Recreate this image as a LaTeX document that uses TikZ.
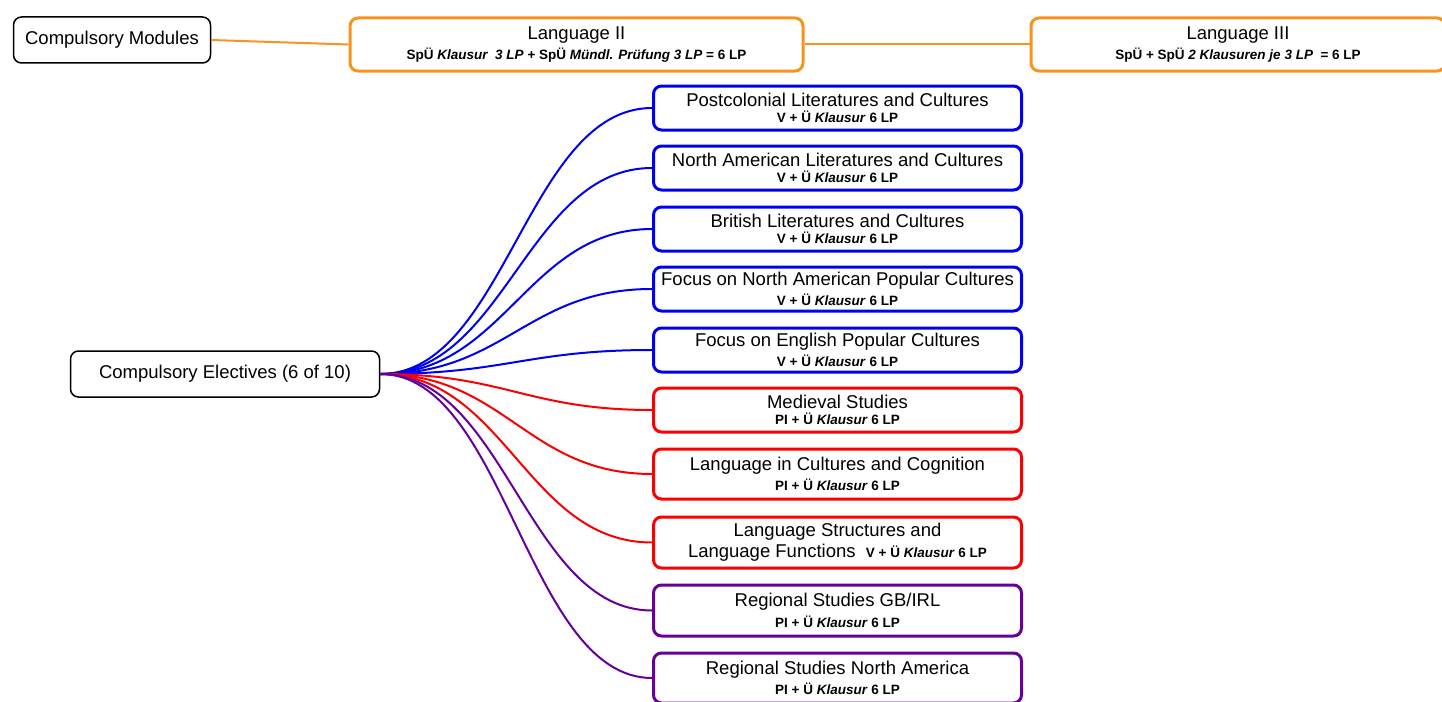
\documentclass[tikz,border=0pt]{standalone}
\usepackage{fontspec}
\setmainfont{Liberation Sans}
\definecolor{modorange}{RGB}{247,148,30}
\definecolor{modblue}{RGB}{0,0,240}
\definecolor{modred}{RGB}{250,0,0}
\definecolor{modpurple}{RGB}{102,0,153}
\newcommand\modtitle[2]{{\fontsize{18.5}{19}\selectfont #1}\\[4pt]{\fontsize{13.5}{14}\selectfont\bfseries #2}}
\newcommand\modexam[1]{#1 + Ü \textit{Klausur} 6 LP}

\begin{document}
\begin{tikzpicture}[x=1pt, y=-1pt,
	modbox/.style={draw, rounded corners=8pt, line width=3pt, fill=white, align=center,
		inner sep=0pt, minimum width=368pt, minimum height=44pt},
	rootbox/.style={draw=black, rounded corners=8pt, line width=1.5pt, fill=white, align=center,
		inner sep=0pt, minimum height=46pt, font=\fontsize{18.5}{19}\selectfont},
	branch/.style={line width=2pt}]
	\useasboundingbox (0,0) rectangle (1442,701);

	% Pflichtmodule ------------------------------------------------------------
	\node[rootbox, minimum width=197pt] (cm) at (112,40) {Compulsory Modules};
	\node[modbox, draw=modorange, minimum width=453pt, minimum height=53pt] (lang2) at (576.5,44.5)
		{\modtitle{Language II}{SpÜ \textit{Klausur\ \ 3 LP} + SpÜ \textit{Mündl. Prüfung 3 LP} = 6 LP}};
	\node[modbox, draw=modorange, minimum width=414pt, minimum height=53pt] (lang3) at (1238,44.5)
		{\modtitle{Language III}{SpÜ + SpÜ \textit{2 Klausuren je 3 LP}\ \ = 6 LP}};
	\draw[modorange, line width=2pt] (cm.east) -- (lang2.west); % Verbindung
	\draw[modorange, line width=2pt] (lang2.east) -- (lang3.west); % Verbindung

	% Wahlpflichtmodule --------------------------------------------------------
	\node[rootbox, minimum width=309pt] (ce) at (225,374) {Compulsory Electives (6 of 10)};

	\node[modbox, draw=modblue] (pc) at (837.5,108) {\modtitle{Postcolonial Literatures and Cultures}{\modexam{V}}};
	\node[modbox, draw=modblue] (na) at (837.5,168) {\modtitle{North American Literatures and Cultures}{\modexam{V}}};
	\node[modbox, draw=modblue] (br) at (837.5,229) {\modtitle{British Literatures and Cultures}{\modexam{V}}};
	\node[modbox, draw=modblue] (fna) at (837.5,289) {\modtitle{Focus on North American Popular Cultures}{\modexam{V}}};
	\node[modbox, draw=modblue] (fen) at (837.5,350) {\modtitle{Focus on English Popular Cultures}{\modexam{V}}};
	\node[modbox, draw=modred] (med) at (837.5,410) {\modtitle{Medieval Studies}{\modexam{PI}}};
	\node[modbox, draw=modred, minimum height=50pt] (lcc) at (837.5,474) {\modtitle{Language in Cultures and Cognition}{\modexam{PI}}};
	\node[modbox, draw=modred, minimum height=51pt, font=\fontsize{18.5}{21}\selectfont] (lsf) at (837.5,542.5)
		{Language Structures and\\Language Functions\ \ {\fontsize{13.5}{14}\selectfont\bfseries\modexam{V}}};
	\node[modbox, draw=modpurple, minimum height=51pt] (rgb) at (837.5,610.5) {\modtitle{Regional Studies GB/IRL}{\modexam{PI}}};
	\node[modbox, draw=modpurple, minimum height=50pt] (rna) at (837.5,678) {\modtitle{Regional Studies North America}{\modexam{PI}}};

	% Verbindungen (kubische Kurven) -------------------------------------------
	\foreach \m in {pc,na,br,fna,fen}
		\draw[branch, modblue] (ce.east) .. controls +(125,0) and +(-125,0) .. (\m.west);
	\foreach \m in {med,lcc,lsf}
		\draw[branch, modred] (ce.east) .. controls +(125,0) and +(-125,0) .. (\m.west);
	\foreach \m in {rgb,rna}
		\draw[branch, modpurple] (ce.east) .. controls +(125,0) and +(-125,0) .. (\m.west);
\end{tikzpicture}
\end{document}
